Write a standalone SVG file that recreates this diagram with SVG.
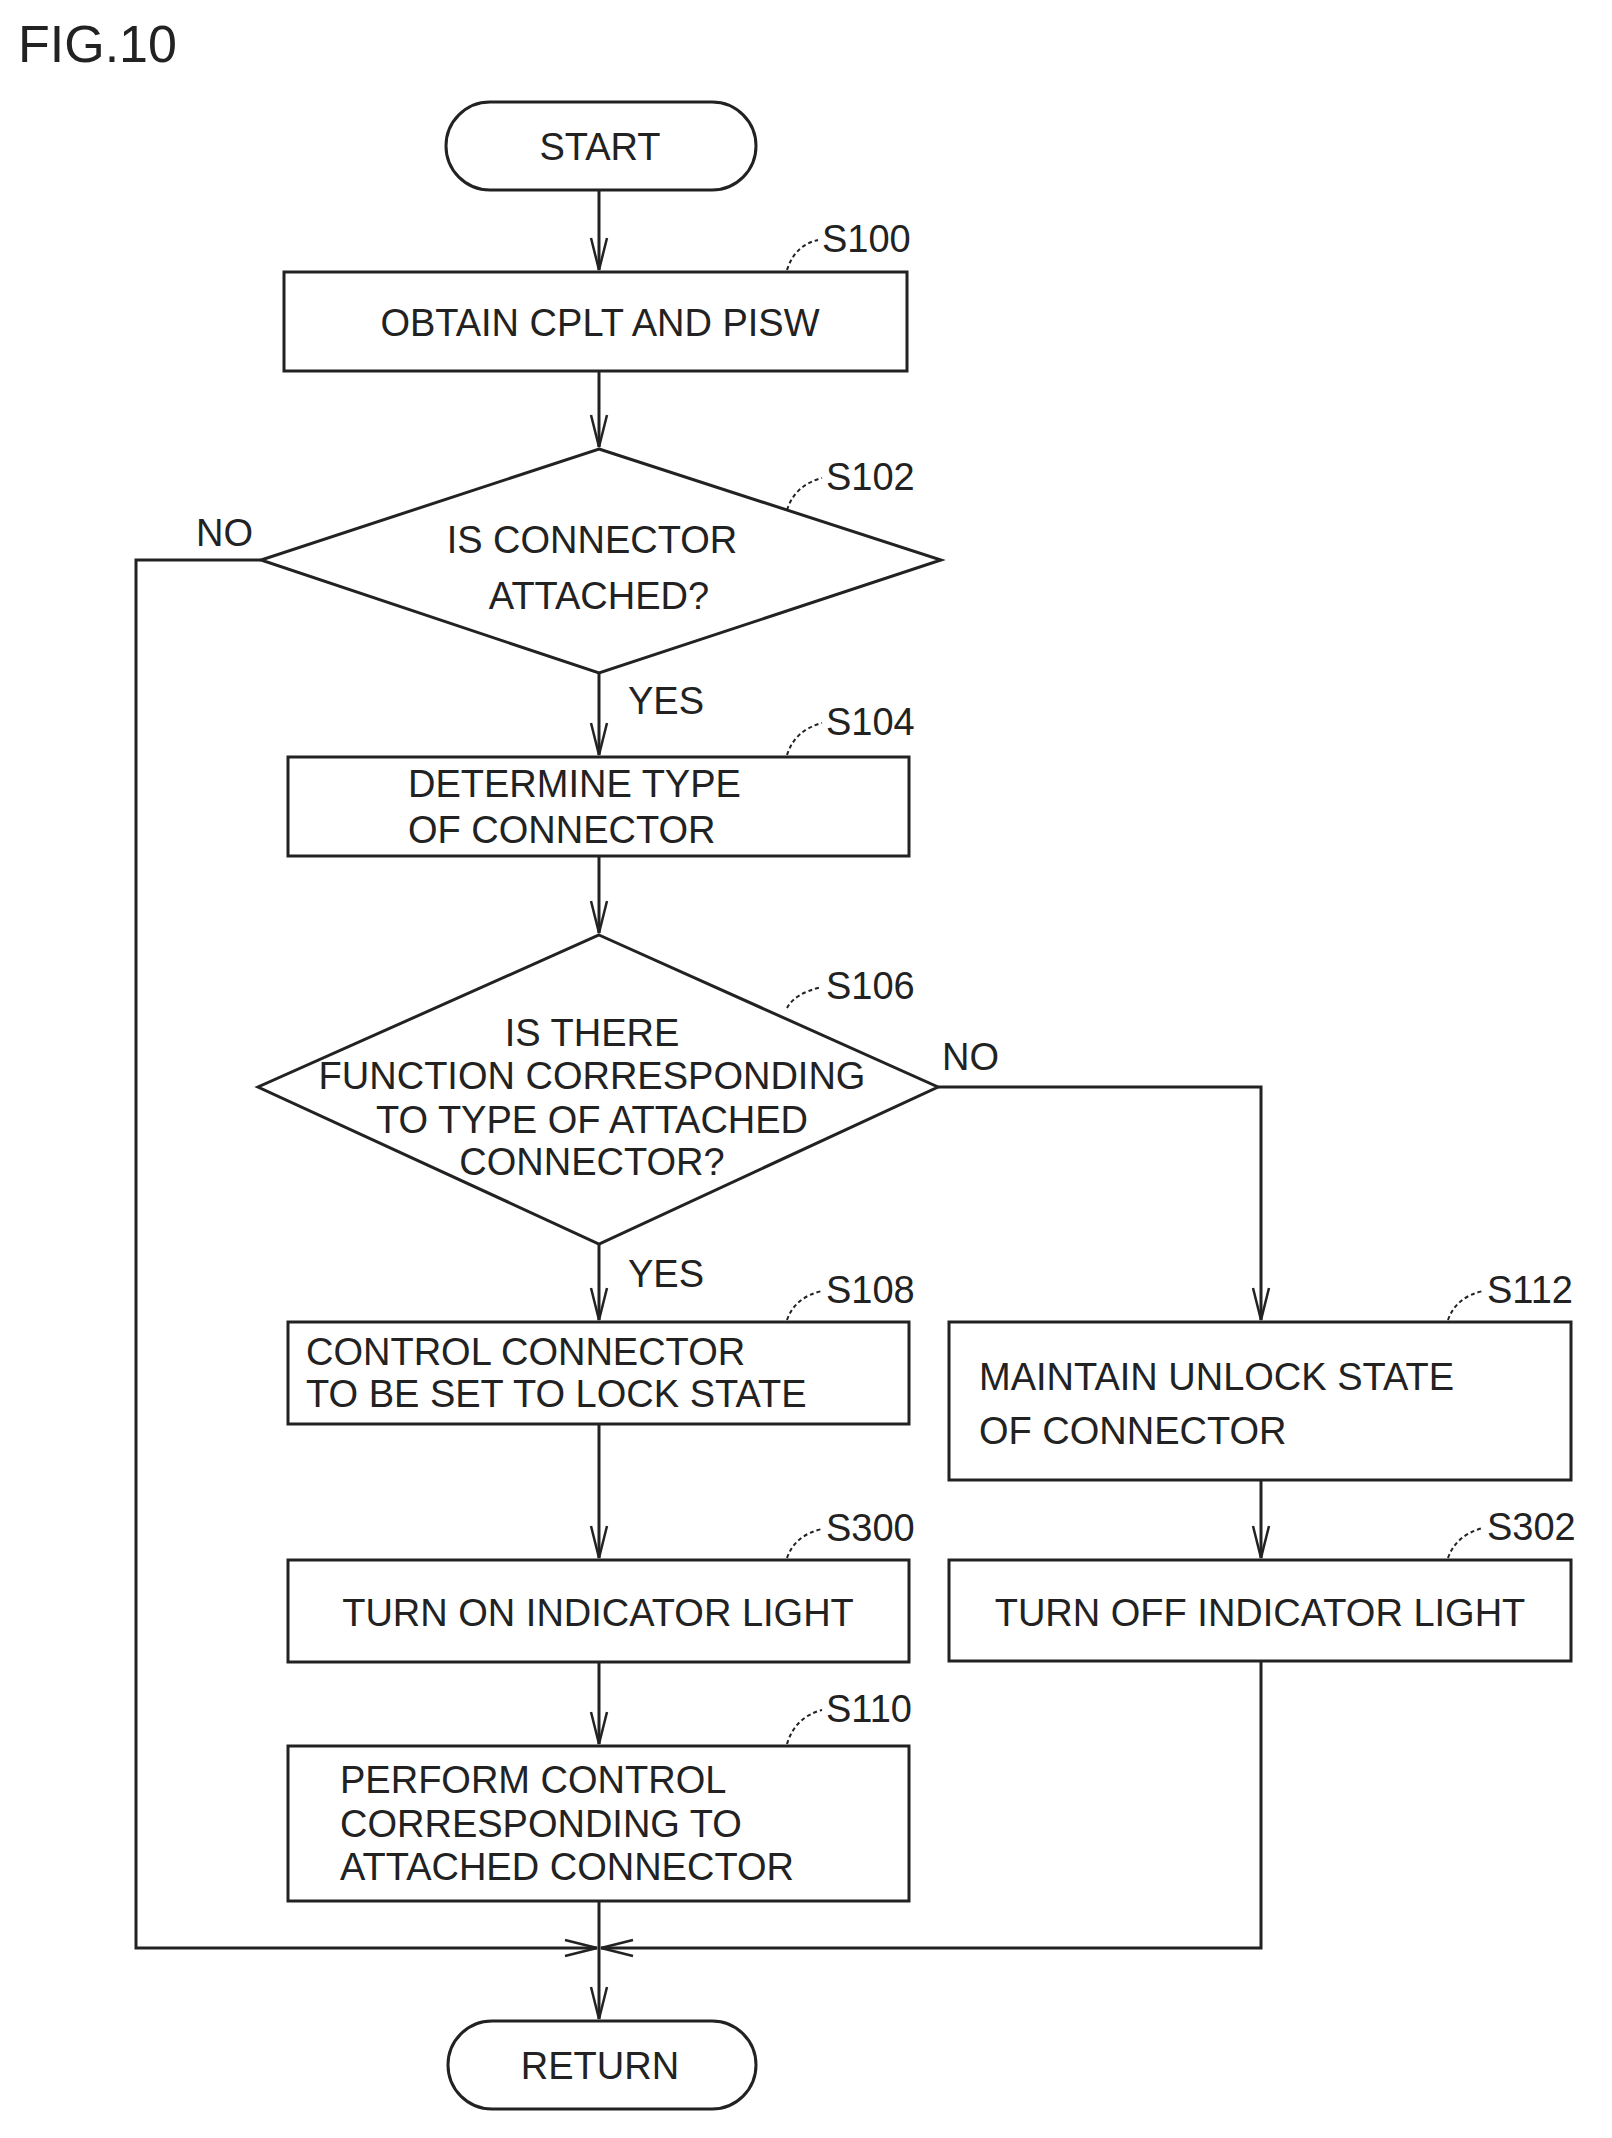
<svg xmlns="http://www.w3.org/2000/svg" width="1612" height="2138" viewBox="0 0 1612 2138">
<style>
.s{fill:none;stroke:#222;stroke-width:3}
.t{font-family:"Liberation Sans",Arial,sans-serif;font-size:38px;fill:#222}
.c{text-anchor:middle}
.l{fill:none;stroke:#222;stroke-width:2;stroke-dasharray:4 3}
</style>
<defs><marker id="a" markerWidth="36" markerHeight="20" refX="34" refY="10" orient="auto" markerUnits="userSpaceOnUse" viewBox="0 0 36 20"><path d="M2 2 L34 10 L2 18" fill="none" stroke="#222" stroke-width="2.5"/></marker></defs>
<text class="t" x="18" y="62" style="font-size:52px">FIG.10</text>
<g id="start"><rect class="s" x="446" y="102" width="310" height="88" rx="44"/><text class="t c" x="600" y="160">START</text></g>
<g id="s100"><rect class="s" x="284" y="272" width="623" height="99"/><text class="t c" x="600" y="336">OBTAIN CPLT AND PISW</text><path class="l" d="M787 270 Q795 245 818 240"/><text class="t" x="822" y="252">S100</text></g>
<g id="s102"><path class="s" d="M599 449 L941 560 L599 673 L261 560 Z"/><text class="t c" x="592" y="553">IS CONNECTOR</text><text class="t c" x="599" y="609">ATTACHED?</text><path class="l" d="M787 510 Q795 485 822 478"/><text class="t" x="826" y="490">S102</text></g>
<g id="s104"><rect class="s" x="288" y="757" width="621" height="99"/><text class="t" x="408" y="797">DETERMINE TYPE</text><text class="t" x="408" y="843">OF CONNECTOR</text><path class="l" d="M787 755 Q795 730 822 723"/><text class="t" x="826" y="735">S104</text></g>
<g id="s106"><path class="s" d="M599 935 L938 1087 L599 1244 L258 1087 Z"/><text class="t c" x="592" y="1046">IS THERE</text><text class="t c" x="592" y="1089">FUNCTION CORRESPONDING</text><text class="t c" x="592" y="1133">TO TYPE OF ATTACHED</text><text class="t c" x="592" y="1175">CONNECTOR?</text><path class="l" d="M787 1008 Q795 993 822 987"/><text class="t" x="826" y="999">S106</text></g>
<g id="s108"><rect class="s" x="288" y="1322" width="621" height="102"/><text class="t" x="306" y="1365">CONTROL CONNECTOR</text><text class="t" x="306" y="1407">TO BE SET TO LOCK STATE</text><path class="l" d="M787 1320 Q795 1297 822 1291"/><text class="t" x="826" y="1303">S108</text></g>
<g id="s112"><rect class="s" x="949" y="1322" width="622" height="158"/><text class="t" x="979" y="1390">MAINTAIN UNLOCK STATE</text><text class="t" x="979" y="1444">OF CONNECTOR</text><path class="l" d="M1448 1320 Q1456 1297 1483 1291"/><text class="t" x="1487" y="1303">S112</text></g>
<g id="s300"><rect class="s" x="288" y="1560" width="621" height="102"/><text class="t c" x="598" y="1626">TURN ON INDICATOR LIGHT</text><path class="l" d="M787 1558 Q795 1535 822 1529"/><text class="t" x="826" y="1541">S300</text></g>
<g id="s302"><rect class="s" x="949" y="1560" width="622" height="101"/><text class="t c" x="1260" y="1626">TURN OFF INDICATOR LIGHT</text><path class="l" d="M1448 1558 Q1456 1535 1483 1528"/><text class="t" x="1487" y="1540">S302</text></g>
<g id="s110"><rect class="s" x="288" y="1746" width="621" height="155"/><text class="t" x="340" y="1793">PERFORM CONTROL</text><text class="t" x="340" y="1837">CORRESPONDING TO</text><text class="t" x="340" y="1880">ATTACHED CONNECTOR</text><path class="l" d="M787 1744 Q795 1717 822 1710"/><text class="t" x="826" y="1722">S110</text></g>
<g id="return"><rect class="s" x="448" y="2021" width="308" height="88" rx="44"/><text class="t c" x="600" y="2079">RETURN</text></g>
<g id="connectors">
<path class="s" d="M599 190 V270" marker-end="url(#a)"/>
<path class="s" d="M599 371 V447" marker-end="url(#a)"/>
<path class="s" d="M599 673 V755" marker-end="url(#a)"/>
<path class="s" d="M599 856 V933" marker-end="url(#a)"/>
<path class="s" d="M599 1244 V1320" marker-end="url(#a)"/>
<path class="s" d="M599 1424 V1558" marker-end="url(#a)"/>
<path class="s" d="M599 1662 V1744" marker-end="url(#a)"/>
<path class="s" d="M599 1901 V1948"/>
<path class="s" d="M938 1087 H1261 V1320" marker-end="url(#a)"/>
<path class="s" d="M1261 1480 V1558" marker-end="url(#a)"/>
<path class="s" d="M261 560 H136 V1948 H597" marker-end="url(#a)"/>
<path class="s" d="M1261 1661 V1948 H601" marker-end="url(#a)"/>
<path class="s" d="M599 1948 V2019" marker-end="url(#a)"/>
<text class="t" x="196" y="546">NO</text>
<text class="t" x="628" y="714">YES</text>
<text class="t" x="942" y="1070">NO</text>
<text class="t" x="628" y="1287">YES</text>
</g>
</svg>
